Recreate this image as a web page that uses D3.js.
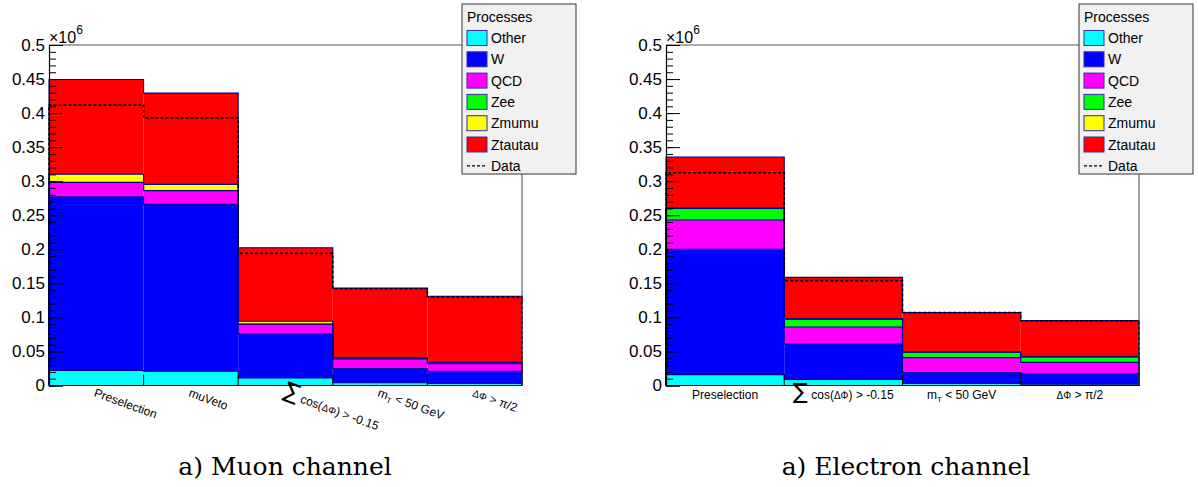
<!DOCTYPE html>
<html>
<head>
<meta charset="utf-8">
<script src="https://cdn.jsdelivr.net/npm/d3@7"></script>
<style>
  html, body { margin: 0; padding: 0; background: #fff; }
  svg { display: block; font-family: "Liberation Sans", Arial, sans-serif; }
</style>
</head>
<body>
<svg id="chart" width="1198" height="487"></svg>
<script>
// Selection cut-flow, stacked by process (events)
const muonCuts = ["Preselection", "muVeto", "sumcos", "mT", "dphi"];
const electronCuts = ["Preselection", "sumcos", "mT", "dphi"];

const processNames = ["Other", "W", "QCD", "Zee", "Zmumu", "Ztautau"];
const processColors = ["#00ffff", "#0000ff", "#ff00ff", "#00ff00", "#ffff00", "#ff0000"];

// Muon channel
const muOther   = [22000, 21000, 11000, 4000, 3000];
const muW       = [255000, 245000, 65000, 21000, 18000];
const muQCD     = [21000, 20000, 14000, 14000, 11000];
const muZee     = [300, 300, 300, 1000, 1000];
const muZmumu   = [12000, 9000, 4000, 1000, 1000];
const muZtautau = [139000, 134000, 108000, 102000, 97000];
const muData    = [412000, 393000, 194000, 142000, 130000];

// Electron channel
const elOther   = [16000, 9000, 3000, 2000];
const elW       = [184000, 52000, 16000, 15000];
const elQCD     = [43000, 25000, 22000, 17000];
const elZee     = [17000, 11500, 8000, 8000];
const elZmumu   = [500, 300, 200, 200];
const elZtautau = [75000, 61000, 58000, 53000];
const elData    = [312500, 154000, 107000, 95000];

const yTicks = [0, 50000, 100000, 150000, 200000, 250000, 300000, 350000, 400000, 450000, 500000];

const svg = d3.select("#chart");

function drawLabel(sel, key) {
  // Axis label text with math-like pieces
  if (key === "Preselection" || key === "muVeto") {
    sel.append("tspan").text(key);
  } else if (key === "sumcos") {
    sel.append("tspan").attr("font-size", 22).attr("font-family", "DejaVu Sans").text("\u2211");
    sel.append("tspan").text(" cos(");
    sel.append("tspan").attr("font-size", 10).text("\u0394\u03A6");
    sel.append("tspan").text(") > -0.15");
  } else if (key === "mT") {
    sel.append("tspan").text("m");
    sel.append("tspan").attr("font-size", 8).attr("dy", 3).text("T");
    sel.append("tspan").attr("dy", -3).text(" < 50 GeV");
  } else if (key === "dphi") {
    sel.append("tspan").attr("font-size", 10).text("\u0394\u03A6");
    sel.append("tspan").text(" > \u03C0/2");
  }
}

function panel(opts) {
  const { left, right, legendX, cats, layers, data, rotate, caption, captionX } = opts;
  const top = 45, bottom = 385.5;
  const g = svg.append("g");

  const x = d3.scaleBand().domain(cats).range([left, right]).paddingInner(0).paddingOuter(0);
  const y = d3.scaleLinear().domain([0, 500000]).range([bottom, top]);

  const rows = cats.map((c, i) => {
    const r = { cat: c };
    processNames.forEach((p, k) => { r[p] = layers[k][i]; });
    return r;
  });
  const series = d3.stack().keys(processNames)(rows);

  // Filled layers
  series.forEach((s, k) => {
    g.append("g").selectAll("rect").data(s).join("rect")
      .attr("x", d => x(d.data.cat))
      .attr("width", x.bandwidth())
      .attr("y", d => y(d[1]))
      .attr("height", d => Math.max(0, y(d[0]) - y(d[1])))
      .attr("fill", processColors[k]);
  });

  // Step outline of a histogram given per-bin heights
  const stepLine = d3.line().x(d => d[0]).y(d => y(d[1]));
  function stepPoints(vals) {
    const pts = [[x(cats[0]), 0]];
    cats.forEach((c, i) => {
      pts.push([x(c), vals[i]]);
      pts.push([x(c) + x.bandwidth(), vals[i]]);
    });
    pts.push([x(cats[cats.length - 1]) + x.bandwidth(), 0]);
    return pts;
  }

  // Cumulative outlines, top layer first
  for (let k = series.length - 1; k >= 0; k--) {
    g.append("path")
      .attr("d", stepLine(stepPoints(series[k].map(d => d[1]))))
      .attr("fill", "none")
      .attr("stroke", "#00008f")
      .attr("stroke-width", 1.1);
  }

  // Data as dashed step
  g.append("path")
    .attr("d", stepLine(stepPoints(data)))
    .attr("fill", "none")
    .attr("stroke", "#000")
    .attr("stroke-width", 1.6)
    .attr("stroke-dasharray", "3,2");

  // Frame: top and right
  g.append("line").attr("x1", left).attr("x2", right).attr("y1", top).attr("y2", top)
    .attr("stroke", "#555").attr("stroke-width", 1);
  g.append("line").attr("x1", right).attr("x2", right).attr("y1", top).attr("y2", bottom)
    .attr("stroke", "#444").attr("stroke-width", 1);

  // Y axis: minor ticks
  const minor = d3.range(0, 500001, 10000);
  g.append("g").attr("transform", `translate(${left},0)`)
    .call(d3.axisLeft(y).tickValues(minor).tickSize(-7).tickFormat(""))
    .call(a => a.select(".domain").remove())
    .selectAll("line").attr("stroke", "#000");

  // Y axis: major ticks and labels
  const ya = g.append("g").attr("transform", `translate(${left},0)`)
    .call(d3.axisLeft(y).tickValues(yTicks).tickSize(-14).tickPadding(4)
      .tickFormat(v => d3.format("~g")(v / 1e6)));
  ya.select(".domain").attr("stroke", "#000").attr("stroke-width", 1.2);
  ya.selectAll("line").attr("stroke", "#000");
  ya.selectAll("text").attr("font-size", 17).attr("font-family", "Liberation Sans, Arial, sans-serif")
    .attr("fill", "#000");

  // X axis with ticks at bin edges
  const edges = cats.map(c => x(c)).concat([right]);
  g.append("line").attr("x1", left).attr("x2", right).attr("y1", bottom).attr("y2", bottom)
    .attr("stroke", "#000").attr("stroke-width", 1.2);
  g.append("g").selectAll("line").data(edges.slice(1, -1)).join("line")
    .attr("x1", d => d).attr("x2", d => d)
    .attr("y1", bottom).attr("y2", bottom - 11)
    .attr("stroke", "#000");

  // Multiplier
  const mult = g.append("text").attr("x", left).attr("y", 43).attr("font-size", 16);
  mult.append("tspan").text("\u00D710");
  mult.append("tspan").attr("font-size", 12).attr("dy", -9).text("6");

  // Bin labels
  cats.forEach(c => {
    const cx = x(c) + x.bandwidth() / 2;
    const t = g.append("text").attr("font-size", 12).attr("fill", "#000");
    if (rotate) {
      t.attr("transform", `translate(${cx - 3},396) rotate(20)`).attr("text-anchor", "start");
    } else {
      t.attr("x", cx).attr("y", 399).attr("text-anchor", "middle");
    }
    drawLabel(t, c);
  });

  // Legend
  const lg = g.append("g").attr("transform", `translate(${legendX},4)`);
  lg.append("rect").attr("width", 114).attr("height", 170)
    .attr("fill", "#f1f1f1").attr("stroke", "#333").attr("stroke-width", 1);
  lg.append("text").attr("x", 5).attr("y", 18).attr("font-size", 14).text("Processes");
  processNames.forEach((p, k) => {
    const cy = 34 + k * 21.3;
    lg.append("rect").attr("x", 5).attr("y", cy - 7.5).attr("width", 20).attr("height", 15)
      .attr("fill", processColors[k]).attr("stroke", "#3030a0").attr("stroke-width", 1);
    lg.append("text").attr("x", 29).attr("y", cy + 5).attr("font-size", 14).text(p);
  });
  const dy = 34 + 6 * 21.3;
  lg.append("line").attr("x1", 5).attr("x2", 25).attr("y1", dy).attr("y2", dy)
    .attr("stroke", "#000").attr("stroke-width", 1.3).attr("stroke-dasharray", "3,2");
  lg.append("text").attr("x", 29).attr("y", dy + 5).attr("font-size", 14).text("Data");

  // Caption
  svg.append("text").attr("x", captionX).attr("y", 475).attr("text-anchor", "middle")
    .attr("font-family", "DejaVu Serif, serif").attr("font-size", 25).attr("fill", "#000")
    .text(caption);
}

panel({
  left: 49, right: 522, legendX: 462, cats: muonCuts,
  layers: [muOther, muW, muQCD, muZee, muZmumu, muZtautau], data: muData,
  rotate: true, caption: "a) Muon channel", captionX: 285
});

panel({
  left: 666, right: 1139, legendX: 1079, cats: electronCuts,
  layers: [elOther, elW, elQCD, elZee, elZmumu, elZtautau], data: elData,
  rotate: false, caption: "a) Electron channel", captionX: 906
});
</script>
</body>
</html>
